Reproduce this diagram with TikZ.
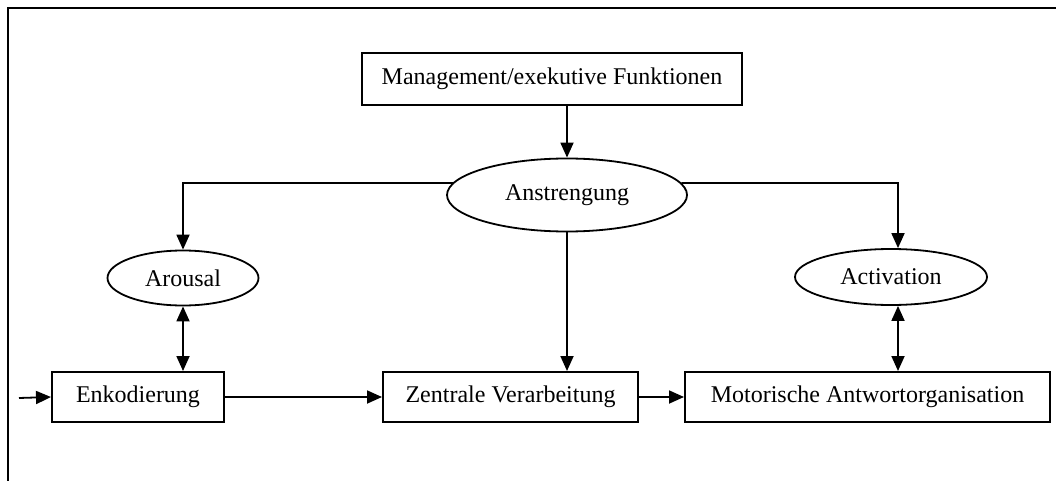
\documentclass[tikz,border=0pt]{standalone}
\usepackage{fontspec}
\setmainfont{Liberation Serif}
\usetikzlibrary{arrows.meta,shapes.geometric}
\begin{document}
\begin{tikzpicture}[x=1pt,y=-1pt,
  box/.style={draw,line width=2pt,rectangle,inner sep=0pt,font=\fontsize{24}{28}\selectfont},
  oval/.style={draw,line width=1.8pt,ellipse,inner sep=0pt,font=\fontsize{24}{28}\selectfont},
  conn/.style={line width=1.8pt,-{Triangle[length=15pt,width=13pt]}},
  dconn/.style={line width=1.8pt,{Triangle[length=15pt,width=13pt]}-{Triangle[length=15pt,width=13pt]}}]
\useasboundingbox (0,0) rectangle (1056,481);
\draw[line width=2.2pt] (8,481) -- (8,8) -- (1056,8);
\node[box,minimum width=380pt,minimum height=52pt] (mgmt) at (552,79) {Management/exekutive Funktionen};
\node[oval,minimum width=240pt,minimum height=73pt] (ans) at (567,195) {Anstrengung};
\node[oval,minimum width=151pt,minimum height=55pt] (aro) at (183,278) {Arousal};
\node[oval,minimum width=192pt,minimum height=56pt] (act) at (891,277) {Activation};
\node[box,minimum width=172pt,minimum height=50pt] (enk) at (138,397) {Enkodierung};
\node[box,minimum width=255pt,minimum height=50pt] (zen) at (510.5,397) {Zentrale Verarbeitung};
\node[box,minimum width=365pt,minimum height=50pt] (mot) at (867.5,397) {Motorische Antwortorganisation};
\coordinate (rc) at (898,183);
\coordinate (in) at (19,398);
\draw[conn] (ans.north |- mgmt.south) -- (ans.north);
\draw[conn] (ans.174) -| (aro.north);
\draw[conn] (ans.6) -- (rc) -- (rc |- act.north);
\draw[conn] (ans.south) -- (ans.south |- zen.north);
\draw[dconn] (aro.south) -- (aro.south |- enk.north);
\draw[dconn] (rc |- act.south) -- (rc |- mot.north);
\draw[conn] (in) -- (enk.west);
\draw[conn] (enk.east) -- (zen.west);
\draw[conn] (zen.east) -- (mot.west);
\end{tikzpicture}
\end{document}
